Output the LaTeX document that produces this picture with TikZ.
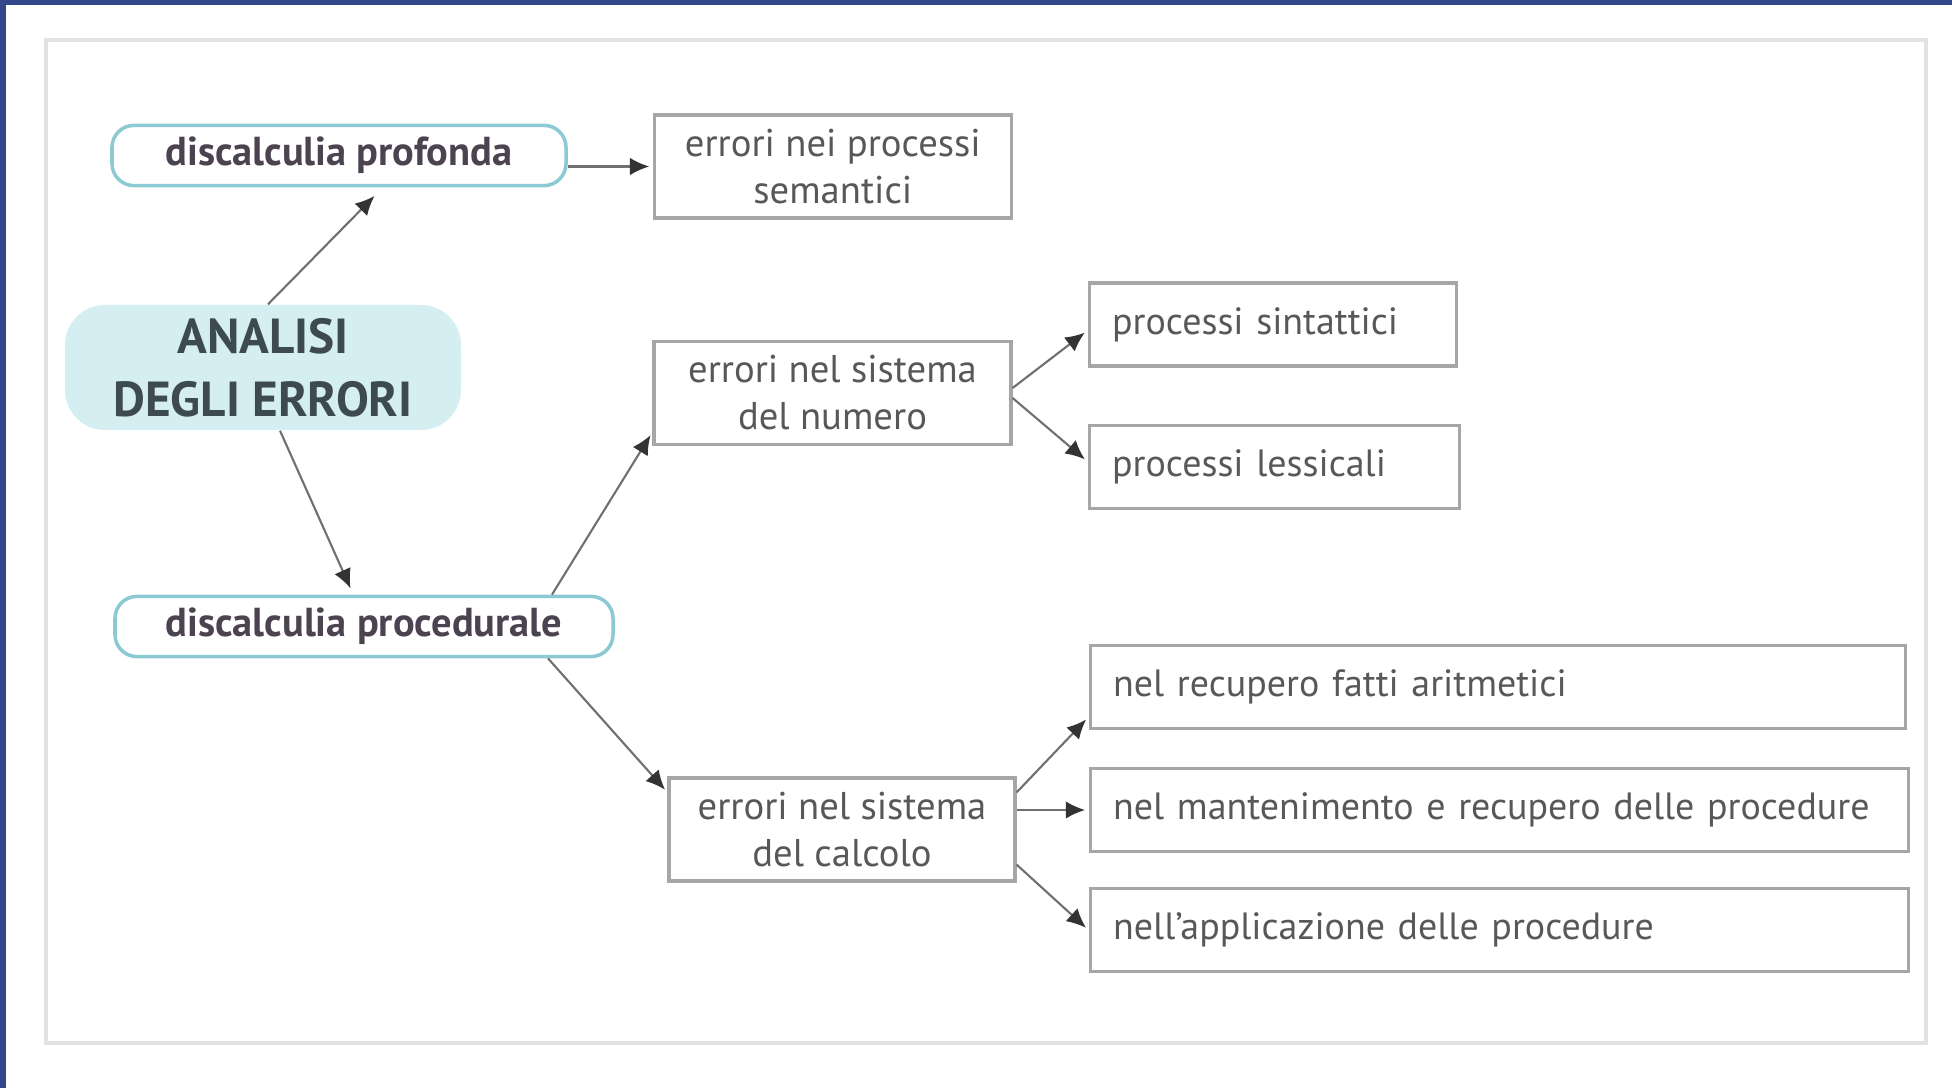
\documentclass[tikz,border=0pt]{standalone}
\usepackage{fontspec}
\setmainfont{PT Sans}
\usetikzlibrary{positioning,arrows.meta}

\definecolor{mapcyan}{HTML}{8CCAD3}
\definecolor{mapfill}{HTML}{D5EEF2}
\definecolor{boxgray}{HTML}{A6A6A6}
\definecolor{txtgray}{HTML}{585858}
\definecolor{labelgray}{HTML}{4B4450}
\definecolor{titlegray}{HTML}{3E4A52}
\definecolor{arrowgray}{HTML}{707070}
\definecolor{framegray}{HTML}{E2E2E2}
\definecolor{bandblue}{HTML}{33488A}
\definecolor{bandlight}{HTML}{6878B0}

\tikzset{
  tipo/.style={draw=mapcyan, line width=1pt, rounded corners=0.22cm, fill=white,
    text=labelgray, font=\bfseries\fontsize{11.5}{13}\selectfont, minimum height=0.57cm},
  titolo/.style={fill=mapfill, rounded corners=0.4cm, text=titlegray, align=center,
    font=\bfseries\fontsize{14}{18}\selectfont, minimum width=3.96cm, minimum height=1.25cm},
  errore/.style={draw=boxgray, line width=0.9pt, text=txtgray, align=center,
    font=\fontsize{11}{13.4}\selectfont, minimum height=1.03cm},
  voce/.style={draw=boxgray, line width=0.9pt, text=txtgray, align=left,
    font=\fontsize{10.8}{13}\selectfont, inner xsep=0.23cm, minimum height=0.83cm},
  freccia/.style={draw=arrowgray, line width=0.6pt, shorten >=1pt,
    -{Latex[length=5.5pt,width=5pt,color=black!80]}},
}

\begin{document}
\begin{tikzpicture}
  % page and frame
  \useasboundingbox (0,0) rectangle (19.52,10.88);
  \fill[white] (0,0) rectangle (19.52,10.88);
  \shade[left color=bandblue, middle color=bandlight, right color=bandblue]
    (0,10.83) rectangle (19.52,10.88);
  \fill[bandblue] (0,0) rectangle (0.06,10.88);
  \draw[framegray, line width=1.1pt] (0.46,10.48) rectangle (19.26,0.45);

  % left side
  \node[titolo] (analisi) at (2.63,7.205) {ANALISI\\DEGLI ERRORI};
  \node[tipo, minimum width=4.54cm] (prof) at (3.39,9.325) {discalculia profonda};
  \node[tipo, minimum width=4.98cm] (proc) at (3.64,4.615) {discalculia procedurale};

  % middle column
  \node[errore, minimum width=3.57cm, right=0.85cm of prof, yshift=-0.11cm] (sem)
    {errori nei processi\\semantici};
  \node[errore, minimum width=3.57cm] (numero) at (8.325,6.95)
    {errori nel sistema\\del numero};
  \node[errore, minimum width=3.46cm] (calcolo) at (8.42,2.585)
    {errori nel sistema\\del calcolo};

  % right column
  \node[voce, text width=3.21cm, right=0.75cm of numero, yshift=0.685cm] (sint)
    {processi sintattici};
  \node[voce, text width=3.24cm, below=0.56cm of sint.south west, anchor=north west] (less)
    {processi lessicali};
  \node[voce, text width=7.72cm, right=0.72cm of calcolo, yshift=0.195cm] (mant)
    {nel mantenimento e recupero delle procedure};
  \node[voce, text width=7.69cm, above=0.37cm of mant.north west, anchor=south west] (recup)
    {nel recupero fatti aritmetici};
  \node[voce, text width=7.72cm, below=0.34cm of mant.south west, anchor=north west] (appl)
    {nell’applicazione delle procedure};

  % connectors
  \draw[freccia] ([xshift=0.05cm]analisi.north) -- ([xshift=0.38cm,yshift=-0.06cm]prof.south);
  \draw[freccia] ([xshift=0.17cm]analisi.south) -- ([xshift=-0.12cm,yshift=0.03cm]proc.north);
  \draw[freccia] (prof.east |- sem.west) -- (sem.west);
  \draw[freccia] ([xshift=1.88cm]proc.north) -- ([yshift=0.14cm]numero.south west);
  \draw[freccia] ([xshift=1.84cm]proc.south) -- ([yshift=-0.16cm]calcolo.north west);
  \draw[freccia] ([yshift=0.05cm]numero.east) -- ([yshift=-0.06cm]sint.west);
  \draw[freccia] ([yshift=-0.05cm]numero.east) -- ([yshift=0.05cm]less.west);
  \draw[freccia] ([yshift=-0.16cm]calcolo.north east) -- ([yshift=0.13cm]recup.south west);
  \draw[freccia] (calcolo.east |- mant.west) -- (mant.west);
  \draw[freccia] ([yshift=0.18cm]calcolo.south east) -- (appl.west);
\end{tikzpicture}
\end{document}
